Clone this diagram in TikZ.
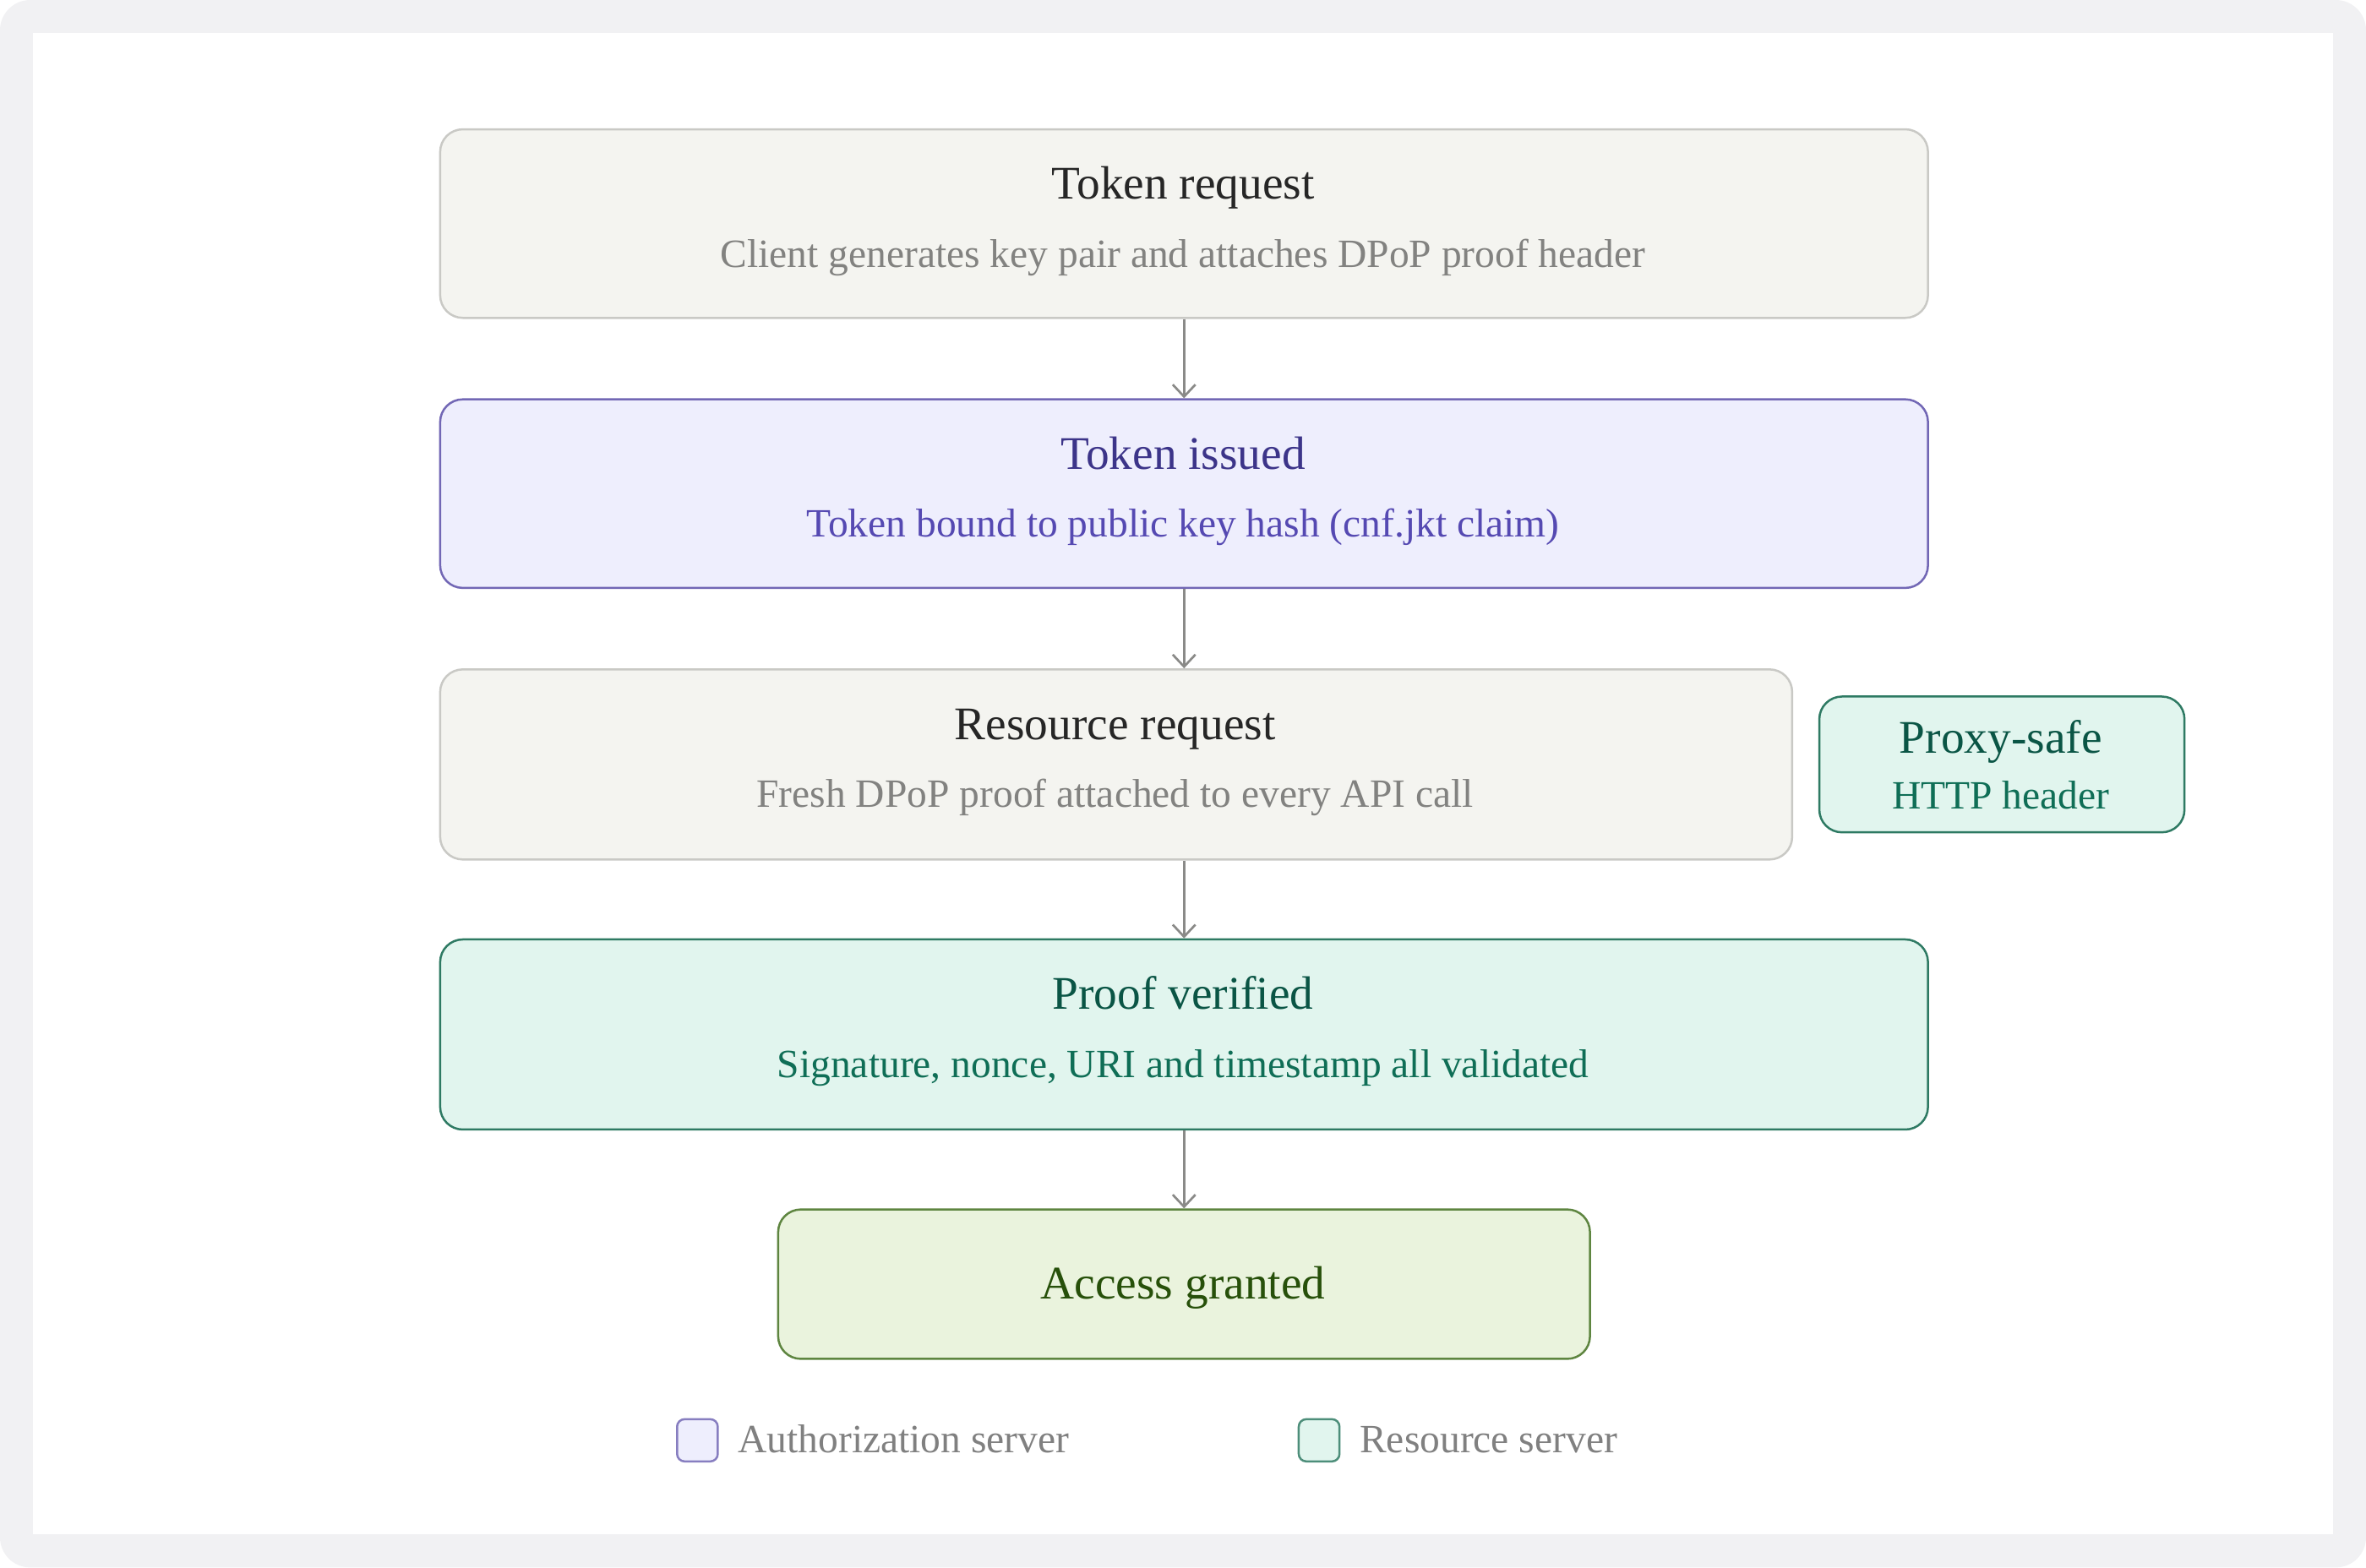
\documentclass[tikz,border=0pt]{standalone}
\usepackage{fontspec}
\setmainfont{Liberation Serif}
\usetikzlibrary{arrows.meta}
\definecolor{frame}{HTML}{F1F1F3}
\definecolor{nfill}{HTML}{F4F4F0}
\definecolor{ndraw}{HTML}{C9C9C5}
\definecolor{ntitle}{HTML}{262626}
\definecolor{nsub}{HTML}{828280}
\definecolor{pfill}{HTML}{EEEEFD}
\definecolor{pdraw}{HTML}{7267B5}
\definecolor{ptitle}{HTML}{3C3489}
\definecolor{psub}{HTML}{5549B2}
\definecolor{tfill}{HTML}{E1F5EE}
\definecolor{tdraw}{HTML}{2E7A63}
\definecolor{ttitle}{HTML}{0A5545}
\definecolor{tsub}{HTML}{0F6E56}
\definecolor{gfill}{HTML}{EAF3DD}
\definecolor{gdraw}{HTML}{5E8540}
\definecolor{gtitle}{HTML}{27500A}
\definecolor{arrowc}{HTML}{8A8A88}
\definecolor{legtext}{HTML}{808080}
\tikzset{
  box/.style={draw, line width=1.4pt, rounded corners=15pt, inner sep=0pt, anchor=north west},
  neutral/.style={box, fill=nfill, draw=ndraw},
  purple/.style={box, fill=pfill, draw=pdraw},
  teal/.style={box, fill=tfill, draw=tdraw},
  green/.style={box, fill=gfill, draw=gdraw},
  ttl/.style={anchor=base, inner sep=0pt, font=\fontsize{31}{36}\selectfont},
  sub/.style={anchor=base, inner sep=0pt, font=\fontsize{26.6}{32}\selectfont},
  flow/.style={draw=arrowc, line width=1.5pt, -{Straight Barb[length=8pt,width=15pt,line width=1.5pt]}},
  legbox/.style={draw, line width=1.4pt, rounded corners=5pt, inner sep=0pt, minimum width=27pt, minimum height=28pt, anchor=north west},
}
\begin{document}
\begin{tikzpicture}[x=1pt,y=-1pt]
\useasboundingbox (0,0) rectangle (1568,1039);
\fill[frame, rounded corners=20pt] (0,0) rectangle (1568,1039);
\fill[white] (22,22) rectangle (1546,1017);

\node[neutral, minimum width=986pt, minimum height=125pt] (b1) at (291,85) {};
\node[purple, minimum width=986pt, minimum height=125pt] (b2) at (291,264) {};
\node[neutral, minimum width=896pt, minimum height=126pt] (b3) at (291,443) {};
\node[teal, minimum width=242pt, minimum height=90pt] (px) at (1205,461) {};
\node[teal, minimum width=986pt, minimum height=126pt] (b4) at (291,622) {};
\node[green, minimum width=538pt, minimum height=99pt] (b5) at (515,801) {};

\node[ttl, text=ntitle] (t1) at (784,132) {Token request};
\node[sub, text=nsub] (s1) at (784,177) {Client generates key pair and attaches DPoP proof header};
\node[ttl, text=ptitle] (t2) at (784,311) {Token issued};
\node[sub, text=psub] (s2) at (784,356) {Token bound to public key hash (cnf.jkt claim)};
\node[ttl, text=ntitle] (t3) at (739,490) {Resource request};
\node[sub, text=nsub] (s3) at (739,535) {Fresh DPoP proof attached to every API call};
\node[ttl, text=ttitle] (tp) at (1326,499) {Proxy-safe};
\node[sub, text=tsub] (sp) at (1326,536) {HTTP header};
\node[ttl, text=ttitle] (t4) at (784,669) {Proof verified};
\node[sub, text=tsub] (s4) at (784,714) {Signature, nonce, URI and timestamp all validated};
\node[ttl, text=gtitle] (t5) at (784,861) {Access granted};

\draw[flow] (b1.south) -- (b2.north);
\draw[flow] (b2.south) -- (b2.south |- b3.north);
\draw[flow] (b4.north |- b3.south) -- (b4.north);
\draw[flow] (b4.south) -- (b5.north);

\node[legbox, fill=pfill, draw=pdraw!85] (l1) at (448,940) {};
\node[sub, text=legtext, anchor=base west] (lt1) at (489,963) {Authorization server};
\node[legbox, fill=tfill, draw=tdraw!85] (l2) at (860,940) {};
\node[sub, text=legtext, anchor=base west] (lt2) at (901,963) {Resource server};
\end{tikzpicture}
\end{document}
